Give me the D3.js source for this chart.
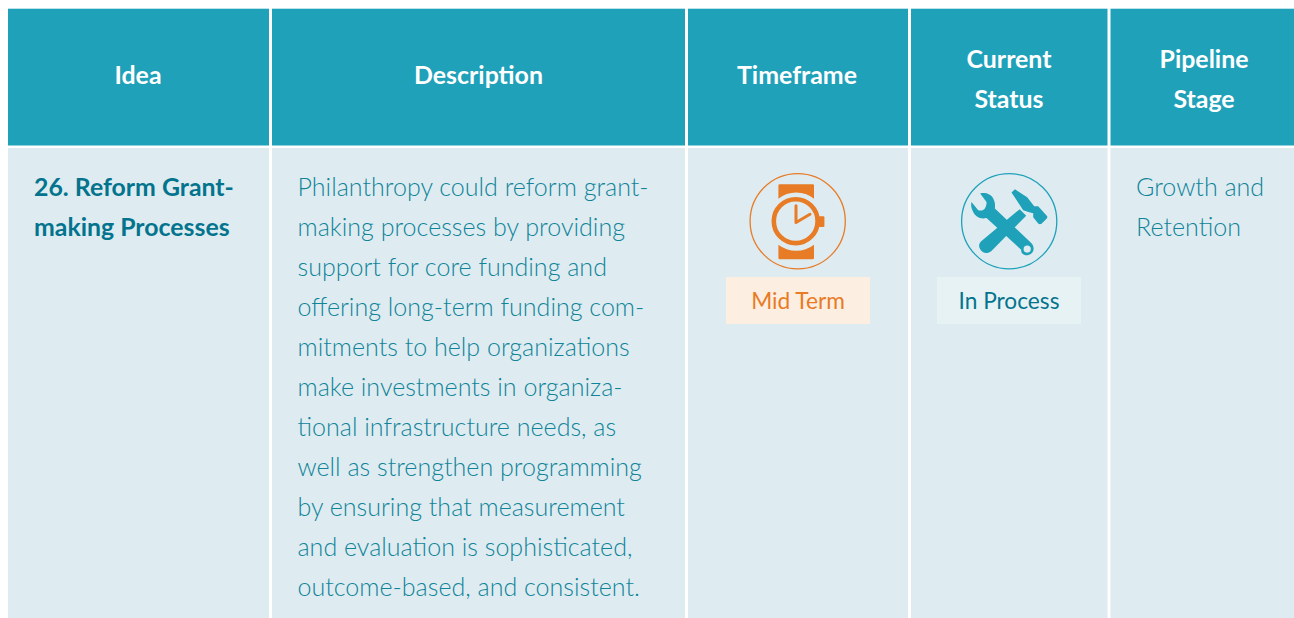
<!DOCTYPE html>
<html><head><meta charset="utf-8">
<script src="https://cdn.jsdelivr.net/npm/d3@7/dist/d3.min.js"></script>
<style>html,body{margin:0;padding:0;background:#fff;overflow:hidden}svg{display:block}text{font-family:Lato,sans-serif;font-variant-ligatures:common-ligatures}</style>
</head><body><div id="c"></div>
<script>
const columns=["Idea","Description","Timeframe","Current Status","Pipeline Stage"];
const headerLines=[["Idea"],["Description"],["Timeframe"],["Current","Status"],["Pipeline","Stage"]];
const ideaLines=["26. Reform Grant-","making Processes"];
const descriptionLines=["Philanthropy could reform grant-","making processes by providing","support for core funding and","offering long-term funding com-","mitments to help organizations","make investments in organiza-","tional infrastructure needs, as","well as strengthen programming","by ensuring that measurement","and evaluation is sophisticated,","outcome-based, and consistent."];
const stageLines=["Growth and","Retention"];
const timeframe="Mid Term", status="In Process";
const colEdges=[8,270.5,686.5,909.5,1109,1294];

const W=1294,H=618;
const svg=d3.select("#c").append("svg").attr("width",W).attr("height",H);
const headTop=8.7,headBot=145.5,bodyTop=148,gap=3;
const TEAL="#1fa1b9",PALE="#deecf1",DARK="#04748e",MID="#108499",OR="#e87b26";

columns.forEach((c,i)=>{
  const x0=colEdges[i]+(i?gap/2:0), x1=colEdges[i+1]-(i<4?gap/2:0);
  svg.append("rect").attr("x",x0).attr("y",headTop).attr("width",x1-x0).attr("height",headBot-headTop).attr("fill",TEAL);
  svg.append("rect").attr("x",x0).attr("y",bodyTop).attr("width",x1-x0).attr("height",H-bodyTop).attr("fill",PALE);
});
const hx=[138,478.5,797,1009,1204];
headerLines.forEach((ls,i)=>{
  const ys=ls.length===1?[84.3]:[68.3,108.3];
  ls.forEach((l,j)=>svg.append("text").attr("x",hx[i]).attr("y",ys[j]).attr("text-anchor","middle")
    .attr("font-size",24.9).attr("font-weight",700).attr("fill","#fff").text(l));
});
function block(lines,x,weight,color,fs){
  lines.forEach((l,j)=>svg.append("text").attr("x",x).attr("y",196.4+40*j).attr("font-size",fs)
    .attr("font-weight",weight).attr("fill",color).text(l));
}
block(ideaLines,34,700,DARK,24.85);
block(descriptionLines,297.5,300,MID,25.05);
block(stageLines,1136,300,MID,25.05);

// Timeframe icon
const a=svg.append("g").attr("transform","translate(797.7,221.2)");
a.append("circle").attr("r",47.6).attr("fill","none").attr("stroke",OR).attr("stroke-width",1.3);
a.append("path").attr("fill",OR).attr("d","M-19.3,-36 Q-19.3,-37 -18,-37 L15,-37 Q16.3,-37 16.3,-36 L16.3,-22.5 A29,29 0 0 0 -19.3,-22.5 Z");
a.append("path").attr("fill",OR).attr("d","M-19.3,36.5 Q-19.3,38 -18,38 L15,38 Q16.3,38 16.3,36.5 L16.3,23.5 A29,29 0 0 1 -19.3,23.5 Z");
a.append("circle").attr("cx",-2).attr("r",21.9).attr("fill","none").attr("stroke",OR).attr("stroke-width",4.6);
a.append("rect").attr("x",21).attr("y",-5).attr("width",5.7).attr("height",10.7).attr("rx",1).attr("fill",OR);
a.append("path").attr("d","M-1.7,-15.5 L-1.7,1.3 L12.3,-7").attr("fill","none").attr("stroke",OR).attr("stroke-width",3).attr("stroke-linecap","round").attr("stroke-linejoin","round");
svg.append("rect").attr("x",726).attr("y",277).attr("width",144).attr("height",47).attr("fill","#fdeee2");
svg.append("text").attr("x",798).attr("y",308.5).attr("text-anchor","middle").attr("font-size",22.7).attr("fill",OR).text(timeframe);

// Status icon
const b=svg.append("g").attr("transform","translate(1009.2,221.2)");
b.append("circle").attr("r",47.6).attr("fill","none").attr("stroke",TEAL).attr("stroke-width",1.3);
// wrench
b.append("path").attr("fill",TEAL).attr("fill-rule","evenodd").attr("d","M-29,-27.7 C-24,-29 -18,-27 -16,-22.7 C-14,-19 -14,-16 -14.3,-12.7 L22.3,22 C26,26 25,33 18.5,34 C13.5,34.5 11.5,31 12,28.5 L-22.7,-3.3 C-29,-1.5 -34,-5 -36,-9.3 C-38,-13 -38.5,-16 -37.7,-19.3 L-31,-11 C-28,-10 -25.5,-11 -24.3,-12.7 C-23,-15 -22.5,-17 -22.7,-19.3 Z M18,24.3 A3.6,3.6 0 1 0 18.01,31.5 A3.6,3.6 0 1 0 18,24.3 Z");
// hammer handle
b.append("path").attr("fill",TEAL).attr("d","M10.5,-12 L17,-5.5 L-18,30 C-22,33 -27,32 -29,28 C-31,25 -30,22 -28,20 Z");
// hammer head
b.append("path").attr("fill",TEAL).attr("d","M2.3,-28.7 L5.7,-32 L18,-24 L25,-15 L29,-15 L38,-5 Q38.5,-3.5 37.3,-2.5 L32.3,2.5 Q30.5,3.5 29,2.3 L24,-4 L24,-8 L20,-9 L14,-11 Z");
svg.append("rect").attr("x",937).attr("y",277).attr("width",144).attr("height",47).attr("fill","#e7f2f5");
svg.append("text").attr("x",1009).attr("y",308.5).attr("text-anchor","middle").attr("font-size",22.7).attr("fill",DARK).text(status);
</script></body></html>
